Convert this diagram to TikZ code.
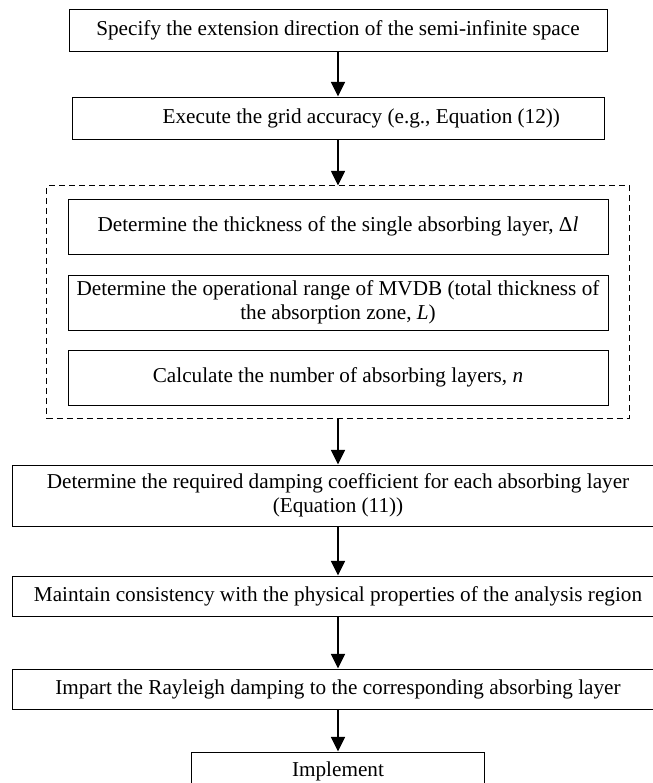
\documentclass[tikz,border=0pt]{standalone}
\usepackage{fontspec}
\setmainfont{Liberation Serif}
\usepackage{tikz}
\usetikzlibrary{arrows.meta, positioning, fit}

\begin{document}
\begin{tikzpicture}[
        every node/.style={font=\fontsize{15.9}{18}\selectfont},
        node distance=34.5pt,
        box/.style={draw=black, line width=0.75pt, minimum height=31.5pt,
                    minimum width=403.5pt, align=center, inner sep=2pt},
        innerbox/.style={box, minimum height=41.25pt, minimum width=405pt},
        widebox/.style={box, minimum height=30pt, minimum width=489pt},
        groupbox/.style={draw=black, line width=0.75pt, dash pattern=on 4.5pt off 3pt,
                         inner xsep=15.75pt, inner ysep=9.4pt},
        arr/.style={-{Triangle[width=10.5pt, length=11pt]}, line width=1.2pt}
      ]
        \useasboundingbox (0,0) rectangle (489.75pt,-587.25pt);

        \node[box] (spec) at (253.5pt,-22.5pt)
          {Specify the extension direction of the semi-infinite space};
        \node[box, minimum width=399pt, below=33.75pt of spec] (grid)
          {\hspace*{35pt}Execute the grid accuracy (e.g., Equation (12))};

        % absorbing layer group
        \node[innerbox, below=44.25pt of grid] (thick)
          {Determine the thickness of the single absorbing layer, Δ\textit{l}};
        \node[innerbox, below=15pt of thick] (range)
          {Determine the operational range of MVDB (total thickness of\\the absorption zone, \textit{L})};
        \node[innerbox, below=14.25pt of range] (number)
          {Calculate the number of absorbing layers, \textit{n}};
        \node[groupbox, fit=(thick)(range)(number)] (group) {};

        \node[widebox, minimum height=45.75pt, below=34.5pt of group] (coef)
          {Determine the required damping coefficient for each absorbing layer\\(Equation (11))};
        \node[widebox, below=36.75pt of coef] (consist)
          {Maintain consistency with the physical properties of the analysis region};
        \node[widebox, below=39pt of consist] (impart)
          {Impart the Rayleigh damping to the corresponding absorbing layer};
        \node[box, minimum width=219.75pt, minimum height=28.5pt, below=31.5pt of impart] (impl)
          {Implement};

        \draw[arr] (spec)--(grid);
        \draw[arr] (grid)--(group);
        \draw[arr] (group)--(coef);
        \draw[arr] (coef)--(consist);
        \draw[arr] (consist)--(impart);
        \draw[arr] (impart)--(impl);
      \end{tikzpicture}
\end{document}
